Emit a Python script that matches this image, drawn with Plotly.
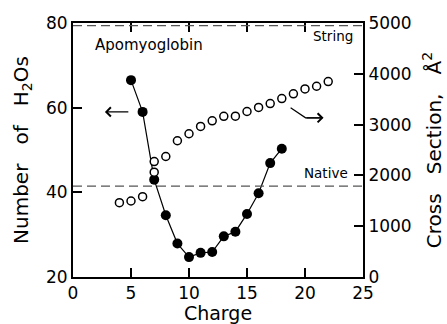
import plotly.graph_objects as go

# Number of water molecules vs charge state (left axis)
h2o_charge = [5, 6, 7, 8, 9, 10, 11, 12, 13, 14, 15, 16, 17, 18]
h2o_count = [66.5, 59.0, 43.0, 34.6, 27.9, 24.7, 25.7, 25.9, 29.6, 30.7, 34.9, 39.8, 46.9, 50.3]

# Collision cross sections vs charge state (right axis)
ccs_charge = [4, 5, 6, 7, 7, 8, 9, 10, 11, 12, 13, 14, 15, 16, 17, 18, 19, 20, 21, 22]
ccs_value = [1462, 1496, 1581, 2063, 2273, 2372, 2682, 2820, 2964, 3074, 3162, 3166, 3258, 3337,
             3413, 3512, 3605, 3703, 3755, 3848]

# Reference cross sections
native_ccs = 1790
string_ccs = 4950

FONT = "DejaVu Sans"
SP = "\u00a0"

fig = go.Figure()

fig.add_trace(go.Scatter(
    x=h2o_charge, y=h2o_count, mode="lines+markers",
    line=dict(color="black", width=1.2),
    marker=dict(color="black", size=10),
    yaxis="y", showlegend=False))

fig.add_trace(go.Scatter(
    x=ccs_charge, y=ccs_value, mode="markers",
    marker=dict(color="white", size=8, line=dict(color="black", width=1.5)),
    yaxis="y2", showlegend=False))

for level in (native_ccs, string_ccs):
    fig.add_shape(type="line", xref="x", yref="y2", x0=0, x1=25, y0=level, y1=level,
                  line=dict(color="#555555", width=1.2, dash="9px,5px"))

# Bent pointer toward the cross-section axis
fig.add_shape(type="path", xref="x", yref="y",
              path="M 18.76,60.0 L 20.05,57.6 L 21.5,57.6",
              line=dict(color="black", width=1.2))
fig.add_annotation(x=21.6, y=57.6, ax=20.0, ay=57.6, xref="x", yref="y",
                   axref="x", ayref="y", text="", showarrow=True,
                   arrowhead=4, arrowsize=1.6, arrowwidth=1.1, arrowcolor="black")
# Pointer toward the water-count axis
fig.add_annotation(x=2.75, y=59.0, ax=4.9, ay=59.0, xref="x", yref="y",
                   axref="x", ayref="y", text="", showarrow=True,
                   arrowhead=4, arrowsize=1.6, arrowwidth=1.1, arrowcolor="black")

fig.add_annotation(x=1.75, y=74.7, xref="x", yref="y", text="Apomyoglobin",
                   showarrow=False, xanchor="left", font=dict(family=FONT, size=15, color="black"))
fig.add_annotation(x=24.3, y=77.0, xref="x", yref="y", text="String",
                   showarrow=False, xanchor="right", font=dict(family=FONT, size=13.5, color="black"))
fig.add_annotation(x=23.9, y=44.6, xref="x", yref="y", text="Native",
                   showarrow=False, xanchor="right", font=dict(family=FONT, size=13.5, color="black"))

tickfont = dict(family=FONT, size=17, color="black")

fig.update_layout(
    width=447, height=324,
    margin=dict(l=73, r=84, t=23, b=47),
    paper_bgcolor="white", plot_bgcolor="white",
    xaxis=dict(range=[0, 25], tickvals=[0, 5, 10, 15, 20, 25], ticks="inside",
               ticklen=9, tickwidth=1.5, tickcolor="black", showgrid=False, zeroline=False,
               showline=True, linecolor="black", linewidth=2, mirror="ticks",
               tickfont=tickfont, automargin=False,
               title=dict(text="Charge", font=dict(family=FONT, size=19, color="black"),
                          standoff=6)),
    yaxis=dict(range=[20, 80], tickvals=[20, 40, 60, 80], ticks="inside",
               ticklen=9, tickwidth=1.5, tickcolor="black", showgrid=False, zeroline=False,
               showline=True, linecolor="black", linewidth=2,
               tickfont=tickfont, automargin=False,
               title=dict(text=f"Number{SP*3}of{SP*3}H<sub>2</sub>Os",
                          font=dict(family=FONT, size=20, color="black"), standoff=12)),
    yaxis2=dict(range=[0, 5000], tickvals=[0, 1000, 2000, 3000, 4000, 5000], overlaying="y",
                side="right", ticks="inside", ticklen=9, tickwidth=1.5, tickcolor="black",
                showgrid=False, zeroline=False, showline=True, linecolor="black", linewidth=2,
                tickfont=tickfont, automargin=False,
                title=dict(text=f"Cross{SP*3}Section,{SP*3}Å<sup>2</sup>",
                           font=dict(family=FONT, size=20, color="black"), standoff=16)),
)

fig.write_html("out.html")
